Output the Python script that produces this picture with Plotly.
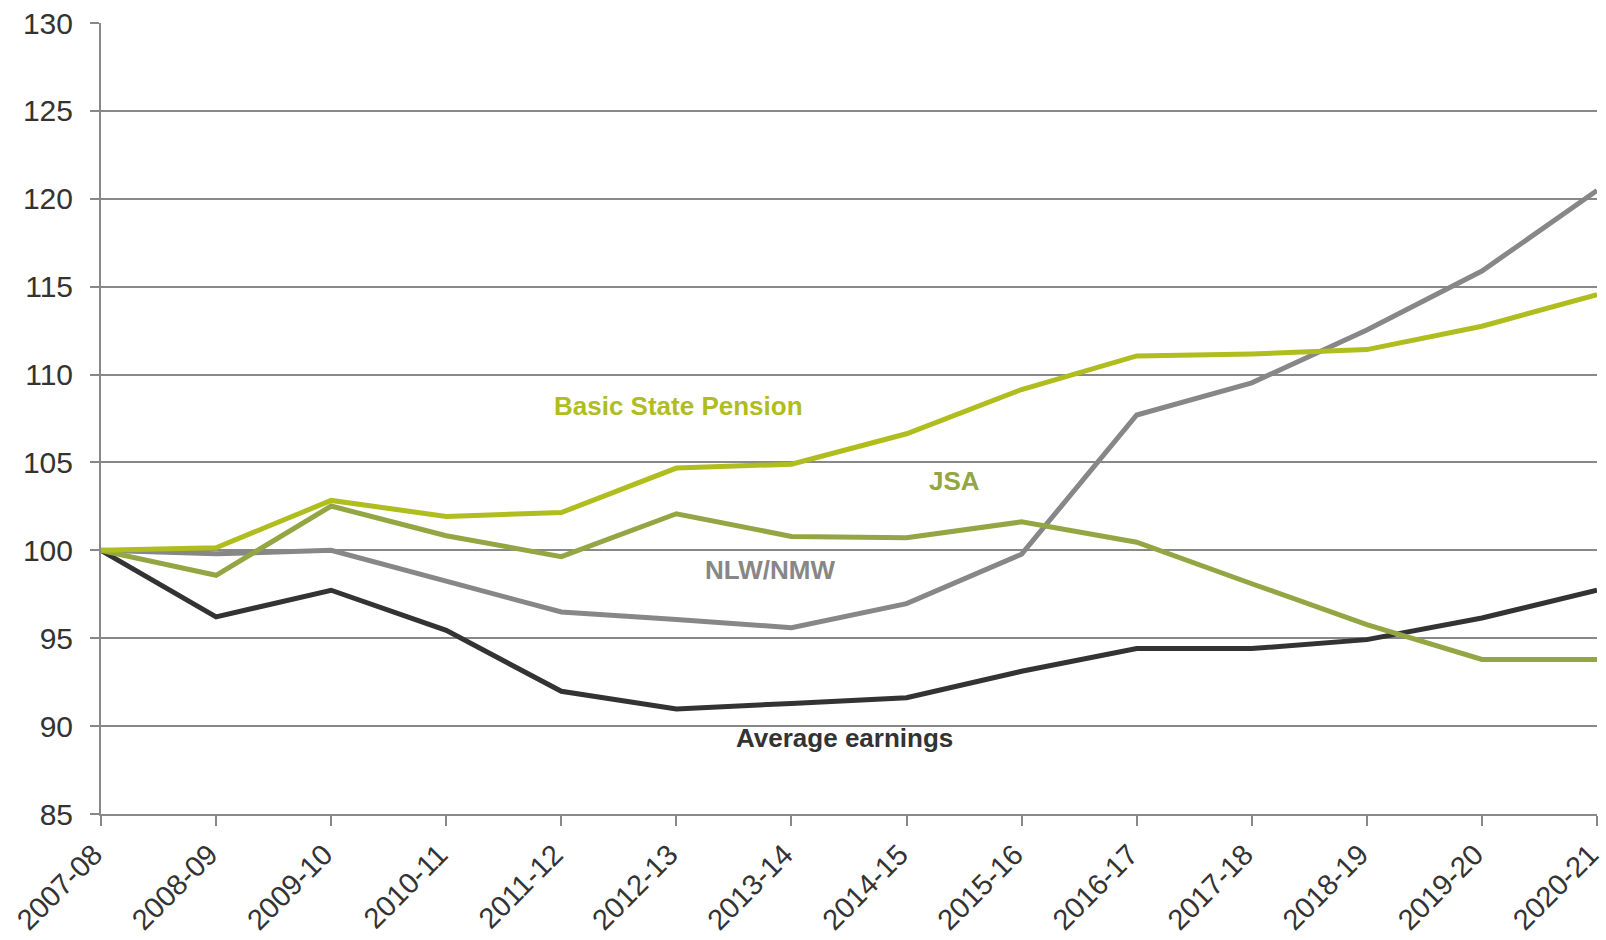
import plotly.graph_objects as go

years = ["2007-08", "2008-09", "2009-10", "2010-11", "2011-12", "2012-13", "2013-14",
         "2014-15", "2015-16", "2016-17", "2017-18", "2018-19", "2019-20", "2020-21"]

basic_state_pension = [100.0, 100.15, 102.84, 101.93, 102.15, 104.68, 104.9, 106.63,
                       109.15, 111.06, 111.17, 111.42, 112.75, 114.55]
jsa = [100.0, 98.58, 102.52, 100.83, 99.64, 102.08, 100.79, 100.72,
       101.62, 100.46, 98.1, 95.77, 93.79, 93.79]
nlw_nmw = [100.0, 99.8, 100.0, 98.26, 96.49, 96.06, 95.6, 96.97,
           99.78, 107.7, 109.53, 112.54, 115.89, 120.47]
average_earnings = [100.0, 96.21, 97.73, 95.45, 91.98, 90.98, 91.29, 91.61,
                    93.12, 94.41, 94.41, 94.92, 96.15, 97.73]

series = [
    ("Average earnings", average_earnings, "#333333"),
    ("NLW/NMW", nlw_nmw, "#878787"),
    ("JSA", jsa, "#93A643"),
    ("Basic State Pension", basic_state_pension, "#B0BD1F"),
]

# label text, category anchor, y value, pixel offset, colour
labels = [
    ("Basic State Pension", "2012-13", 108.2, 2, "#B0BD1F"),
    ("JSA", "2014-15", 103.93, 48, "#93A643"),
    ("NLW/NMW", "2013-14", 98.87, -21, "#878787"),
    ("Average earnings", "2013-14", 89.32, 53, "#333333"),
]

FONT = "Liberation Sans, Arial, sans-serif"

fig = go.Figure()
for name, vals, color in series:
    fig.add_trace(go.Scatter(
        x=years, y=vals, mode="lines", name=name,
        line=dict(color=color, width=5),
        cliponaxis=False, showlegend=False,
    ))

for text, xc, yv, dx, color in labels:
    fig.add_annotation(
        x=xc, y=yv, text="<b>%s</b>" % text, showarrow=False,
        font=dict(family=FONT, size=26, color=color),
        xanchor="center", yanchor="middle", xshift=dx,
    )

fig.update_layout(
    width=1606, height=940,
    margin=dict(l=101, r=9, t=23, b=126),
    paper_bgcolor="white", plot_bgcolor="white",
    font=dict(family=FONT, color="#333333"),
)
fig.update_xaxes(
    type="category", range=[0, len(years) - 1], automargin=False,
    tickangle=-45, tickfont=dict(size=29, color="#333333"),
    ticks="outside", ticklen=10, tickcolor="#888888", tickwidth=2,
    showline=True, linecolor="#888888", linewidth=2,
    showgrid=False, zeroline=False, ticklabeloverflow="allow",
    ticklabelshift=-7,
)
fig.update_yaxes(
    range=[85, 130], dtick=5, tick0=85, automargin=False,
    tickfont=dict(size=30, color="#333333"),
    ticks="outside", ticklen=9, tickcolor="#888888", tickwidth=2,
    showline=True, linecolor="#888888", linewidth=2,
    showgrid=True, gridcolor="#888888", gridwidth=1.5,
    zeroline=False, ticklabelstandoff=11, ticklabeloverflow="allow",
)

fig.write_html(
    "out.html",
    config={"displayModeBar": False},
    post_script="document.body.style.margin='0';document.body.style.overflow='hidden';",
)
